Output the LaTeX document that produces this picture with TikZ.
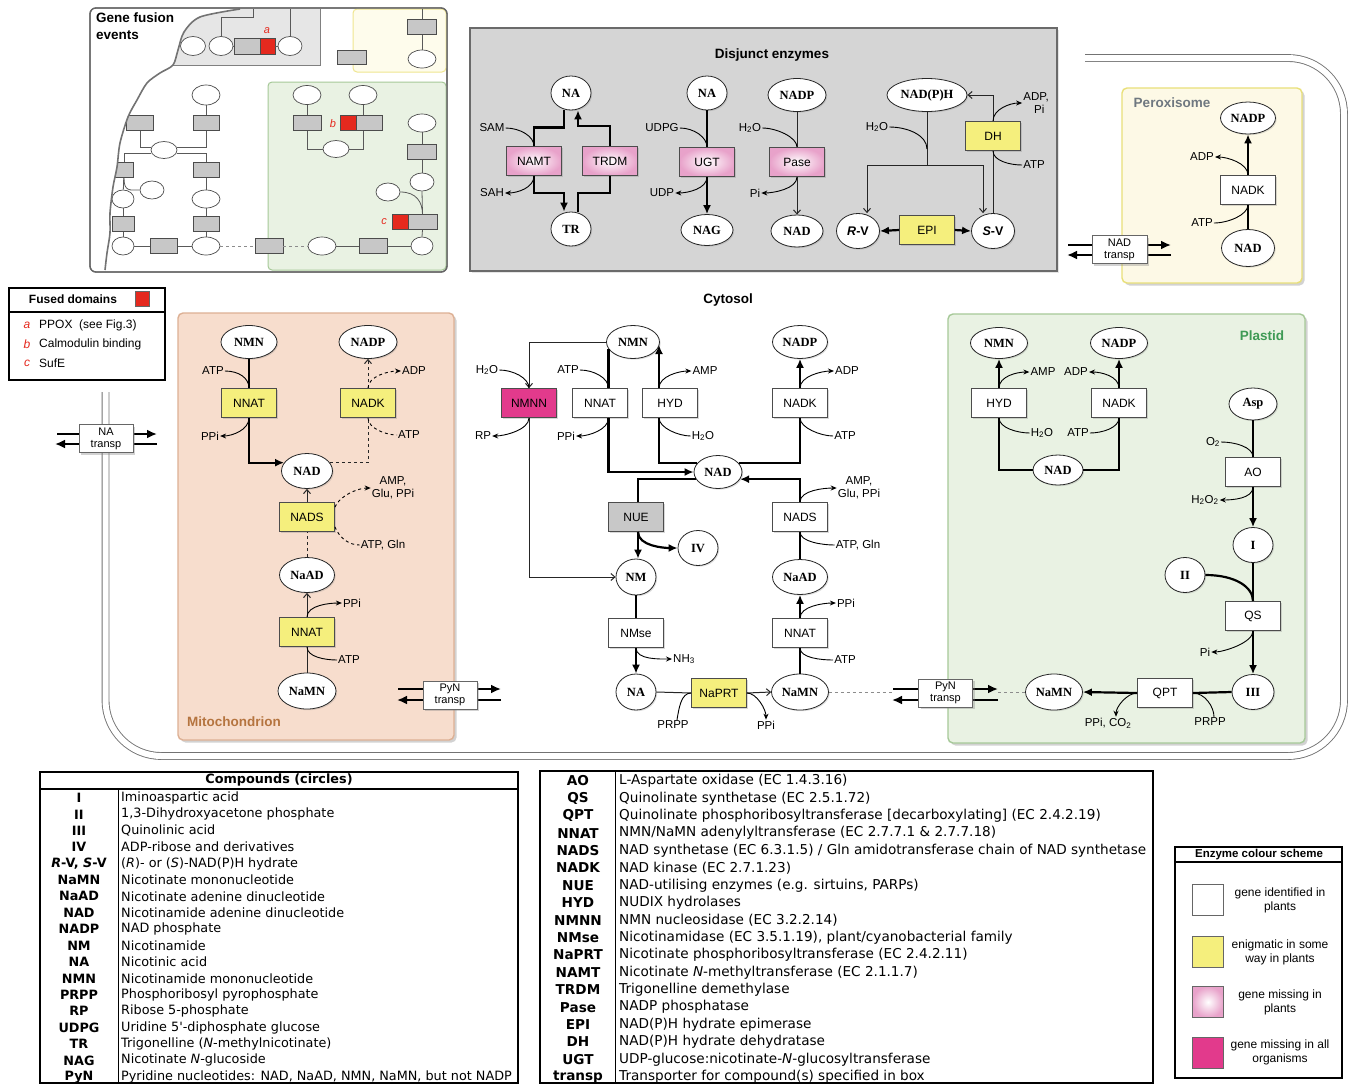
\documentclass[tikz,border=0pt]{standalone}
\usepackage{fontspec}
\setmainfont{Liberation Serif}
\setsansfont{Liberation Sans}
\newfontfamily\tabfont{DejaVu Sans}
\usetikzlibrary{arrows.meta,shapes.geometric,shadows,calc}
\definecolor{enzyel}{HTML}{F5EF7D}
\definecolor{pinkout}{HTML}{E8A2CA}
\definecolor{magentaenz}{HTML}{E23A8C}
\definecolor{nuegray}{HTML}{C8C8C8}
\definecolor{mitofill}{HTML}{F7DDCD}
\definecolor{mitoline}{HTML}{DDB094}
\definecolor{mitotext}{HTML}{B5743F}
\definecolor{plastfill}{HTML}{E9F2E3}
\definecolor{plastline}{HTML}{A6C998}
\definecolor{plasttext}{HTML}{3E9A55}
\definecolor{peroxfill}{HTML}{FDF9E6}
\definecolor{peroxline}{HTML}{E9E079}
\definecolor{peroxtext}{HTML}{6F7880}
\definecolor{disjfill}{HTML}{D5D5D5}
\definecolor{disjline}{HTML}{6A6A6A}
\definecolor{gfgray}{HTML}{E6E6E6}
\definecolor{gfyfill}{HTML}{FEFCEC}
\definecolor{gfyline}{HTML}{EFE690}
\definecolor{fusred}{HTML}{E5291E}
\newcommand\enzfont{\sffamily\fontsize{12}{13}\selectfont}
\newcommand\cmpfont{\rmfamily\bfseries\fontsize{12.5}{13}\selectfont}
\newcommand\lblfont{\sffamily\fontsize{11.5}{12.5}\selectfont}
\newcommand\ttlfont{\sffamily\bfseries\fontsize{13.5}{14}\selectfont}
\newcommand\tabf{\tabfont\fontsize{12.8}{14}\selectfont}
\newcommand\tabe{\tabfont\fontsize{13.6}{15}\selectfont}
\begin{document}
\begin{tikzpicture}[x=1pt,y=-1pt,
  enz/.style={draw=black!70, line width=0.8pt, fill=white, minimum width=55pt, minimum height=29pt, inner sep=0pt, font=\enzfont, drop shadow={opacity=0.3, shadow xshift=1.5pt, shadow yshift=-1.5pt}},
  enzY/.style={enz, fill=enzyel},
  enzP/.style={enz, inner color=white, outer color=pinkout},
  enzM/.style={enz, fill=magentaenz},
  enzG/.style={enz, fill=nuegray},
  cmp/.style={ellipse, draw=black!85, line width=0.8pt, fill=white, inner sep=0pt, font=\cmpfont, drop shadow={opacity=0.25, shadow xshift=1.2pt, shadow yshift=-1.2pt}},
  sz/.style 2 args={minimum width=#1pt, minimum height=#2pt},
  lbl/.style={font=\lblfont, inner sep=1pt},
  thk/.style={line width=2.2pt},
  thka/.style={thk, -{Latex[length=9pt,width=8pt]}},
  thn/.style={line width=1pt, draw=black!85},
  thna/.style={thn, -{Straight Barb[length=4pt,width=7pt]}},
  cof/.style={line width=0.9pt},
  cofa/.style={cof, -{Stealth[length=6pt,width=5pt]}},
  trbox/.style={draw=black!60, line width=0.8pt, fill=white, minimum width=54pt, minimum height=28pt, inner sep=0pt, align=center, font=\sffamily\fontsize{11}{12}\selectfont, drop shadow={opacity=0.35, shadow xshift=2pt, shadow yshift=-2pt}},
  trarr/.style={line width=2.2pt, -{Latex[length=10pt,width=9pt]}},
  comp/.style={rounded corners=5pt, line width=1.4pt, drop shadow={opacity=0.35, shadow xshift=2.5pt, shadow yshift=-2.5pt}},
  tg/.style={draw=black!70, line width=0.7pt, fill=black!22, minimum width=27pt, minimum height=15pt, inner sep=0pt},
  te/.style={ellipse, draw=black!70, line width=0.7pt, fill=white, minimum width=25pt, minimum height=19pt, inner sep=0pt},
  tx/.style={draw=black!70, line width=0.7pt, fill=fusred, minimum width=15pt, minimum height=15pt, inner sep=0pt},
  tl/.style={draw=black!65, line width=0.8pt},
  tred/.style={font=\sffamily\itshape\fontsize{11}{11}\selectfont, text=fusred, inner sep=0pt},
  cssw/.style={draw=black!60, line width=0.8pt, minimum size=31pt, inner sep=0pt},
  cstx/.style={font=\sffamily\fontsize{12}{14}\selectfont, align=center, inner sep=0pt}
]
\useasboundingbox (0,0) rectangle (1352,1085);
\fill[white] (0,0) rectangle (1352,1085);

% ---------------- cell boundary
\draw[draw=black!55, line width=0.9pt, double=white, double distance=6pt, rounded corners=56pt]
  (105.5,392) -- (105.5,756) -- (1344,756) -- (1344,58) -- (1085,58);

% ---------------- gene fusion thumbnail
\draw[line width=1.3pt, draw=black!60, fill=white, rounded corners=6pt] (90,8) rectangle (447,272);
\fill[gfgray] plot[smooth] coordinates {(240,9) (200,17) (184,32) (178,50) (173,65)} -- (320,65) -- (320,9) -- cycle;
\draw[black!50, line width=0.9pt] (173,65) -- (320,65) -- (320,9);
\draw[fill=gfyfill, draw=gfyline, line width=1pt, rounded corners=4pt] (353,9) rectangle (446,72);
\draw[fill=plastfill, draw=plastline, line width=1pt, rounded corners=4pt] (268,82) rectangle (446,270);

\node[te] (t1) at (193,46) {};
\node[te, minimum width=24pt] (t2) at (221,46) {};
\node[tg, minimum width=26pt, minimum height=16pt] (t3) at (247,46) {};
\node[tx, minimum height=16pt] (t4) at (267.5,46) {};
\node[te, minimum width=24pt] (t5) at (290,46) {};
\coordinate (t3a) at (253,9);
\coordinate (t5a) at (290,9);
\draw[tl] (t3a) -- ++(0,8) -| (t2.north);
\draw[tl] (t5a) -- (t5.north);
\draw[tl] (t2.east) -- (t3.west);
\draw[tl] (t4.east) -- (t5.west);
\node[tred] (ta) at (267,31) {a};

\node[tg, minimum width=29pt] (t6) at (422,27) {};
\node[te, minimum width=28pt, minimum height=18pt] (t7) at (422,59) {};
\coordinate (t6a) at (422,9);
\draw[tl] (t6a) -- (t6.north);
\draw[tl] (t6.south) -- (t7.north);
\node[tg, minimum width=29pt, minimum height=14pt] (t8) at (352,57) {};

\node[te, minimum width=28pt] (t9) at (307,95) {};
\node[te, minimum width=28pt] (t10) at (363,95) {};
\node[tg, minimum width=28pt] (t11) at (307,123) {};
\node[tx, minimum width=16pt] (t12) at (348,123) {};
\node[tg, minimum width=26pt] (t13) at (369,123) {};
\node[te, minimum width=26pt, minimum height=17pt] (t14) at (336,149) {};
\draw[tl] (t9.south) -- (t11.north);
\draw[tl] (t10.south) -- (t10.south |- t13.north);
\draw[tl] (t11.south) |- (t14.west);
\draw[tl] (t10.south |- t13.south) |- (t14.east);
\node[tred] (tb) at (333,124) {b};

\node[te, minimum width=28pt, minimum height=18pt] (t15) at (422,123) {};
\node[tg, minimum width=29pt] (t16) at (422,152) {};
\node[te, minimum width=24pt, minimum height=18pt] (t17) at (422,182) {};
\node[te, minimum width=24pt, minimum height=18pt] (t18) at (388,192) {};
\node[tg, minimum width=29pt] (t19) at (422.5,222) {};
\node[tx, minimum width=16pt] (t20) at (400,222) {};
\node[te, minimum width=22pt, minimum height=18pt] (t21) at (422,246) {};
\draw[tl] (t15.south) -- (t16.north);
\draw[tl] (t16.south) -- (t17.north);
\draw[tl] (t17.south) -- (t19.north);
\draw[tl] (t18.east) .. controls +(16,0) and +(0,-12) .. (t19.north);
\draw[tl] (t19.south) -- (t21.north);
\node[tred] (tc) at (384,222) {c};

\node[te, minimum width=22pt, minimum height=18pt] (t22) at (123,246) {};
\node[tg] (t23) at (164,246) {};
\node[te, minimum width=28pt, minimum height=18pt] (t24) at (206,246) {};
\node[tg, minimum width=28pt] (t25) at (269,246) {};
\node[te, minimum width=28pt, minimum height=18pt] (t26) at (322,246) {};
\node[tg, minimum width=28pt] (t27) at (373,246) {};
\draw[tl] (t22) -- (t23) -- (t24);
\draw[tl, dashed, black!45] (t24) -- (t25) -- (t26);
\draw[tl] (t26) -- (t27) -- (t21);

\node[te, minimum width=28pt, minimum height=20pt] (t28) at (206,95) {};
\node[tg, minimum width=26pt] (t29) at (206,123) {};
\node[tg, minimum width=27pt] (t30) at (140,123) {};
\node[te, minimum width=26pt, minimum height=17pt] (t31) at (164,150) {};
\node[tg, minimum width=26pt] (t32) at (206,170) {};
\node[tg, minimum width=18pt] (t33) at (124,170) {};
\node[te, minimum width=24pt, minimum height=18pt] (t34) at (152,190) {};
\node[te, minimum width=28pt, minimum height=18pt] (t35) at (206,199) {};
\node[te, minimum width=22pt, minimum height=18pt] (t36) at (123,199) {};
\node[tg, minimum width=26pt] (t37) at (206,224) {};
\node[tg, minimum width=22pt] (t38) at (123,224) {};
\draw[tl] (t28) -- (t29);
\draw[tl] (t29.south) |- ([yshift=3pt]t31.east);
\draw[tl] (t30.south) |- ([yshift=3pt]t31.west);
\draw[tl] ([yshift=-3pt]t31.east) -| (t32.north);
\draw[tl] ([yshift=-3pt]t31.west) -| (t33.north);
\draw[tl] (t33) -- (t36);
\draw[tl] (t33.south) .. controls +(0,14) and +(-10,0) .. (t34.west);
\draw[tl] (t36) -- (t38) -- (t22);
\draw[tl] (t32) -- (t35) -- (t37) -- (t24);

\fill[white] (92,9) -- plot[smooth] coordinates {(240,9) (200,17) (184,32) (178,50) (173,65) (160,73) (147,83) (137,100) (128,117) (120,143) (117,167) (113,187) (110,213) (110,233) (107,253) (105,270)} -- (92,270) -- cycle;
\draw[black!55, line width=1.6pt] plot[smooth] coordinates {(240,9) (200,17) (184,32) (178,50) (173,65) (160,73) (147,83) (137,100) (128,117) (120,143) (117,167) (113,187) (110,213) (110,233) (107,253) (105,270)};
\draw[line width=1.3pt, draw=black!60, rounded corners=6pt] (90,8) rectangle (447,272);
\node[anchor=north west, align=left, font=\sffamily\bfseries\fontsize{13.5}{17}\selectfont, inner sep=0pt] (gfe) at (96,13) {Gene fusion\\events};

% ---------------- fused domains legend
\draw[line width=1.2pt] (9,288) rectangle (165,380);
\draw[line width=1.2pt] (9,312) -- (165,312);
\node[font=\sffamily\bfseries\fontsize{12}{13}\selectfont] (fd-title) at (73,299) {Fused domains};
\node[draw=black!60, fill=fusred, minimum width=14pt, minimum height=15pt, inner sep=0pt] (fd-sq) at (142,299) {};
\node[tred, font=\sffamily\itshape\fontsize{12}{12}\selectfont] (fd-a) at (27,325) {a};
\node[tred, font=\sffamily\itshape\fontsize{12}{12}\selectfont] (fd-b) at (27,344) {b};
\node[tred, font=\sffamily\itshape\fontsize{12}{12}\selectfont] (fd-c) at (27,363) {c};
\node[anchor=west, inner sep=0pt, font=\sffamily\fontsize{12}{13}\selectfont] (fd-at) at (39,325) {PPOX\ \ (see Fig.3)};
\node[anchor=west, inner sep=0pt, font=\sffamily\fontsize{12}{13}\selectfont] (fd-bt) at (39,344) {Calmodulin binding};
\node[anchor=west, inner sep=0pt, font=\sffamily\fontsize{12}{13}\selectfont] (fd-ct) at (39,363) {SufE};

% ---------------- compartments
\draw[comp, fill=mitofill, draw=mitoline] (178,313) rectangle (454,740);
\draw[comp, fill=plastfill, draw=plastline] (948,314) rectangle (1305,743);
\draw[comp, fill=peroxfill, draw=peroxline] (1122,88) rectangle (1302,283);
\draw[line width=1.3pt, fill=disjfill, draw=disjline, drop shadow={opacity=0.2, shadow xshift=2pt, shadow yshift=-2pt}] (470,28) rectangle (1057,271);

% ---------------- disjunct enzymes
\node[font=\ttlfont] (d-title) at (772,55) {Disjunct enzymes};
\node[cmp, sz={40}{34}] (d-na1) at (571,93) {NA};
\node[enzP] (d-namt) at (534,161) {NAMT};
\node[enzP] (d-trdm) at (610,161) {TRDM};
\node[cmp, sz={40}{34}] (d-tr) at (571,229) {TR};
\node[lbl] (d-sam) at (492,128) {SAM};
\node[lbl] (d-sah) at (492,193) {SAH};
\node[cmp, sz={40}{34}] (d-na2) at (707,93) {NA};
\node[enzP] (d-ugt) at (707,162) {UGT};
\node[cmp, sz={52}{31}] (d-nag) at (707,230) {NAG};
\node[lbl] (d-udpg) at (662,128) {UDPG};
\node[lbl] (d-udp) at (662,193) {UDP};
\node[cmp, sz={58}{33}] (d-nadp) at (797,95) {NADP};
\node[enzP] (d-pase) at (797,162) {Pase};
\node[cmp, sz={52}{32}] (d-nad) at (797,231) {NAD};
\node[lbl] (d-h2o1) at (750,128) {H\textsubscript{2}O};
\node[lbl] (d-pi) at (755,193) {Pi};
\node[cmp, sz={80}{33}] (d-nadph) at (927,95) {NAD(P)H};
\node[cmp, sz={43}{35}] (d-rv) at (858,231) {{\sffamily\textit{R}-V}};
\node[enzY] (d-epi) at (927,230) {EPI};
\node[cmp, sz={43}{35}] (d-sv) at (993,231) {{\sffamily\textit{S}-V}};
\node[enzY] (d-dh) at (993,136) {DH};
\node[lbl] (d-h2o2) at (877,127) {H\textsubscript{2}O};
\node[lbl, align=center] (d-adppi) at (1036,103) {ADP,\\\ \ Pi};
\node[lbl] (d-atp) at (1034,165) {ATP};
\coordinate (d-j) at (927,165);

\draw[thk] ([xshift=-7pt]d-na1.south) -- ++(0,17) -| (d-namt.north);
\draw[thka] (d-namt.south) -- ++(0,17) -| ([xshift=-7pt]d-tr.north);
\draw[thk] ([xshift=7pt]d-tr.north) -- ++(0,-19) -| (d-trdm.south);
\draw[thka] (d-trdm.north) -- ++(0,-20) -| ([xshift=7pt]d-na1.south);
\draw[cof] (d-sam.east) .. controls +(14,0) and +(0,-10) .. (d-namt.north);
\draw[cofa] (d-namt.south) .. controls +(0,12) and +(12,0) .. (d-sah.east);
\draw[thk] (d-na2.south) -- (d-ugt.north);
\draw[thka] (d-ugt.south) -- (d-nag.north);
\draw[cof] (d-udpg.east) .. controls +(14,0) and +(0,-10) .. (d-ugt.north);
\draw[cofa] (d-ugt.south) .. controls +(0,12) and +(12,0) .. (d-udp.east);
\draw[thn] (d-nadp.south) -- (d-pase.north);
\draw[thna] (d-pase.south) -- (d-nad.north);
\draw[cof] (d-h2o1.east) .. controls +(14,0) and +(0,-10) .. (d-pase.north);
\draw[cofa] (d-pase.south) .. controls +(0,12) and +(12,0) .. (d-pi.east);
\draw[thn] (d-nadph.south) -- (d-j);
\draw[thna] (d-j) -| ([xshift=9pt]d-rv.north);
\draw[thna] (d-j) -| ([xshift=-10pt]d-sv.north);
\draw[cof] (d-h2o2.east) .. controls +(18,0) and +(0,-14) .. ($(d-nadph.south)!0.7!(d-j)$);
\draw[thn] (d-sv.north) -- (d-dh.south);
\draw[thna] (d-dh.north) |- (d-nadph.east);
\draw[cofa] (d-dh.north) .. controls +(0,-12) and +(-12,0) .. (d-adppi.west);
\draw[cof] (d-dh.south) .. controls +(0,10) and +(-12,0) .. (d-atp.west);
\draw[thka] (d-epi.west) -- (d-rv.east);
\draw[thka] (d-epi.east) -- (d-sv.west);

% ---------------- peroxisome
\node[font=\sffamily\bfseries\fontsize{13.5}{14}\selectfont, text=peroxtext] (x-title) at (1172,103) {Peroxisome};
\node[cmp, sz={55}{32}] (x-nadp) at (1248,118) {NADP};
\node[enz] (x-nadk) at (1248,190) {NADK};
\node[cmp, sz={53}{37}] (x-nad) at (1248,248) {NAD};
\node[lbl] (x-adp) at (1202,157) {ADP};
\node[lbl] (x-atp) at (1202,223) {ATP};
\draw[thka] (x-nadk.north) -- (x-nadp.south);
\draw[cofa] (x-nadk.north) .. controls +(0,-12) and +(12,0) .. (x-adp.east);
\draw[thk] (x-nad.north) -- (x-nadk.south);
\draw[cof] (x-atp.east) .. controls +(14,0) and +(0,10) .. (x-nadk.south);

% ---------------- mitochondrion
\node[font=\sffamily\bfseries\fontsize{13.5}{14}\selectfont, text=mitotext, anchor=west, inner sep=0pt] (m-title) at (187,722) {Mitochondrion};
\node[cmp, sz={56}{33}] (m-nmn) at (249,342) {NMN};
\node[cmp, sz={58}{33}] (m-nadp) at (368,342) {NADP};
\node[enzY] (m-nnat1) at (249,403) {NNAT};
\node[enzY] (m-nadk) at (368,403) {NADK};
\node[cmp, sz={51}{35}] (m-nad) at (307,471) {NAD};
\node[enzY] (m-nads) at (307,517) {NADS};
\node[cmp, sz={55}{35}] (m-naad) at (307,575) {NaAD};
\node[enzY] (m-nnat2) at (307,632) {NNAT};
\node[cmp, sz={58}{36}] (m-namn) at (307,691) {NaMN};
\node[lbl] (m-atp1) at (213,371) {ATP};
\node[lbl] (m-ppi1) at (210,436) {PPi};
\node[lbl] (m-adp) at (414,371) {ADP};
\node[lbl] (m-atp2) at (409,435) {ATP};
\node[lbl, align=center] (m-amp) at (393,488) {AMP,\\Glu, PPi};
\node[lbl] (m-atpgln) at (383,545) {ATP, Gln};
\node[lbl] (m-ppi2) at (352,603) {PPi};
\node[lbl] (m-atp3) at (349,660) {ATP};
\draw[thk] (m-nmn) -- (m-nnat1);
\draw[cof] (m-atp1.east) .. controls +(14,0) and +(0,-10) .. (m-nnat1.north);
\draw[cofa] (m-nnat1.south) .. controls +(0,12) and +(12,0) .. (m-ppi1.east);
\draw[thka] (m-nnat1.south) |- (m-nad.160);
\draw[thn, dashed] (m-nad.20) -| (m-nadk.south);
\draw[cof, dashed] (m-nadk.south) .. controls +(0,10) and +(-12,0) .. (m-atp2.west);
\draw[thna, dashed] (m-nadk.north) -- (m-nadp.south);
\draw[cofa, dashed] (m-nadk.north) .. controls +(0,-12) and +(-12,0) .. (m-adp.west);
\draw[thna] (m-nads.north) -- (m-nad.south);
\draw[cofa, dashed] ([yshift=-5pt]m-nads.north east) .. controls +(5,-12) and +(-12,0) .. (m-amp.west);
\draw[cof, dashed] ([yshift=5pt]m-nads.south east) .. controls +(5,12) and +(-10,0) .. (m-atpgln.west);
\draw[thn, dashed] (m-naad.north) -- (m-nads.south);
\draw[thna] (m-nnat2.north) -- (m-naad.south);
\draw[cofa] (m-nnat2.north) .. controls +(0,-12) and +(-12,0) .. (m-ppi2.west);
\draw[thn] (m-namn.north) -- (m-nnat2.south);
\draw[cof] (m-nnat2.south) .. controls +(0,10) and +(-12,0) .. (m-atp3.west);

% ---------------- cytosol
\node[font=\ttlfont] (c-title) at (728,300) {Cytosol};
\node[cmp, sz={53}{33}] (c-nmn) at (633,342) {NMN};
\node[cmp, sz={55}{33}] (c-nadp) at (800,342) {NADP};
\node[enzM] (c-nmnn) at (529,403) {NMNN};
\node[enz] (c-nnat1) at (600,403) {NNAT};
\node[enz] (c-hyd) at (670,403) {HYD};
\node[enz] (c-nadk) at (800,403) {NADK};
\node[cmp, sz={48}{33}] (c-nad) at (718,472) {NAD};
\node[enzG] (c-nue) at (636,517) {NUE};
\node[enz] (c-nads) at (800,517) {NADS};
\node[cmp, sz={40}{35}] (c-iv) at (698,548) {IV};
\node[cmp, sz={40}{36}] (c-nm) at (636,577) {NM};
\node[cmp, sz={55}{35}] (c-naad) at (800,577) {NaAD};
\node[enz] (c-nmse) at (636,633) {NMse};
\node[enz] (c-nnat2) at (800,633) {NNAT};
\node[cmp, sz={40}{36}] (c-na) at (636,692) {NA};
\node[enzY] (c-naprt) at (719,693) {NaPRT};
\node[cmp, sz={57}{36}] (c-namn) at (800,692) {NaMN};
\node[lbl] (c-h2o1) at (487,370) {H\textsubscript{2}O};
\node[lbl] (c-atp1) at (568,370) {ATP};
\node[lbl] (c-amp1) at (705,371) {AMP};
\node[lbl] (c-adp) at (847,371) {ADP};
\node[lbl] (c-rp) at (483,436) {RP};
\node[lbl] (c-ppi1) at (566,436) {PPi};
\node[lbl] (c-h2o2) at (703,436) {H\textsubscript{2}O};
\node[lbl] (c-atp2) at (845,436) {ATP};
\node[lbl, align=center] (c-amp2) at (859,488) {AMP,\\Glu, PPi};
\node[lbl] (c-atpgln) at (858,545) {ATP, Gln};
\node[lbl] (c-ppi2) at (846,603) {PPi};
\node[lbl] (c-atp3) at (845,660) {ATP};
\node[lbl] (c-nh3) at (684,659) {NH\textsubscript{3}};
\node[lbl] (c-prpp) at (673,725) {PRPP};
\node[lbl] (c-ppi3) at (766,725) {PPi};
\coordinate (c-hydx) at (659,0);
\draw[thna] (c-nmn.west) -| (c-nmnn.north);
\draw[cof] (c-h2o1.east) .. controls +(14,0) and +(0,-10) .. (c-nmnn.north);
\draw[thna] (c-nmnn.south) |- (c-nm.west);
\draw[cofa] (c-nmnn.south) .. controls +(0,12) and +(12,0) .. (c-rp.east);
\draw[thk] (c-nmn.196) -- (c-nmn.196 |- c-nnat1.north);
\draw[cof] (c-atp1.east) .. controls +(14,0) and +(0,-10) .. (c-nmn.196 |- c-nnat1.north);
\draw[thka] (c-nmn.196 |- c-nnat1.south) |- (c-nad.west);
\draw[cofa] (c-nmn.196 |- c-nnat1.south) .. controls +(0,12) and +(12,0) .. (c-ppi1.east);
\draw[thka] (c-hydx |- c-hyd.north) -- ([yshift=-3pt]c-hydx |- c-nmn.east);
\draw[cofa] (c-hydx |- c-hyd.north) .. controls +(0,-12) and +(-12,0) .. (c-amp1.west);
\draw[thk] (c-nad.156) -| (c-hydx |- c-hyd.south);
\draw[cof] (c-hydx |- c-hyd.south) .. controls +(0,10) and +(-12,0) .. (c-h2o2.west);
\draw[thk] (c-nad.24) -| (c-nadk.south);
\draw[cof] (c-nadk.south) .. controls +(0,10) and +(-12,0) .. (c-atp2.west);
\draw[thka] (c-nadk.north) -- (c-nadp.south);
\draw[cofa] (c-nadk.north) .. controls +(0,-12) and +(-12,0) .. (c-adp.west);
\draw[thk] (c-nad.198) -| ([xshift=2pt]c-nue.north);
\draw[thka] ([xshift=2pt]c-nue.south) -- ([xshift=2pt]c-nm.north);
\draw[thka] ([xshift=2pt]c-nue.south) .. controls +(0,14) and +(-14,0) .. (c-iv.west);
\draw[thka] (c-nads.north) |- (c-nad.342);
\draw[cofa] (c-nads.north) .. controls +(0,-12) and +(-12,0) .. (c-amp2.west);
\draw[cof] (c-nads.south) .. controls +(0,10) and +(-12,0) .. (c-atpgln.west);
\draw[thk] (c-naad.north) -- (c-nads.south);
\draw[thka] (c-nnat2.north) -- (c-naad.south);
\draw[cofa] (c-nnat2.north) .. controls +(0,-12) and +(-12,0) .. (c-ppi2.west);
\draw[thk] (c-namn.north) -- (c-nnat2.south);
\draw[cof] (c-nnat2.south) .. controls +(0,10) and +(-12,0) .. (c-atp3.west);
\draw[thk] (c-nm.south) -- (c-nmse.north);
\draw[thka] (c-nmse.south) -- (c-na.north);
\draw[cofa] (c-nmse.south) .. controls +(0,12) and +(-12,0) .. (c-nh3.west);
\draw[thn] (c-na.east) -- (c-naprt.west);
\draw[cof] ([xshift=4pt]c-prpp.north) .. controls +(2,-12) and +(-10,0) .. (c-naprt.west);
\draw[thna] (c-naprt.east) -- (c-namn.west);
\draw[cofa] (c-naprt.east) .. controls +(10,0) and +(0,-10) .. (c-ppi3.north);

% ---------------- plastid
\node[font=\sffamily\bfseries\fontsize{13.5}{14}\selectfont, text=plasttext] (p-title) at (1262,336) {Plastid};
\node[cmp, sz={57}{31}] (p-nmn) at (999,343) {NMN};
\node[cmp, sz={57}{31}] (p-nadp) at (1119,343) {NADP};
\node[enz] (p-hyd) at (999,403) {HYD};
\node[enz] (p-nadk) at (1119,403) {NADK};
\node[cmp, sz={50}{30}] (p-nad) at (1058,470) {NAD};
\node[cmp, sz={48}{32}] (p-asp) at (1253,404) {Asp};
\node[enz] (p-ao) at (1253,472) {AO};
\node[cmp, sz={40}{35}] (p-i) at (1253,545) {I};
\node[cmp, sz={40}{35}] (p-ii) at (1185,575) {II};
\node[enz] (p-qs) at (1253,616) {QS};
\node[cmp, sz={42}{35}] (p-iii) at (1253,692) {III};
\node[enz] (p-qpt) at (1165,693) {QPT};
\node[cmp, sz={57}{36}] (p-namn) at (1054,692) {NaMN};
\node[lbl] (p-amp) at (1043,372) {AMP};
\node[lbl] (p-adp) at (1076,372) {ADP};
\node[lbl] (p-h2o) at (1042,433) {H\textsubscript{2}O};
\node[lbl] (p-atp) at (1078,433) {ATP};
\node[lbl] (p-o2) at (1213,442) {O\textsubscript{2}};
\node[lbl] (p-h2o2) at (1205,500) {H\textsubscript{2}O\textsubscript{2}};
\node[lbl] (p-pi) at (1205,652) {Pi};
\node[lbl] (p-ppico2) at (1108,723) {PPi, CO\textsubscript{2}};
\node[lbl] (p-prpp) at (1210,722) {PRPP};
\draw[thka] (p-hyd.north) -- (p-nmn.south);
\draw[cofa] (p-hyd.north) .. controls +(0,-12) and +(-12,0) .. (p-amp.west);
\draw[thk] (p-nad.west) -| (p-hyd.south);
\draw[cof] (p-hyd.south) .. controls +(0,10) and +(-12,0) .. (p-h2o.west);
\draw[thk] (p-nad.east) -| (p-nadk.south);
\draw[cof] (p-atp.east) .. controls +(12,0) and +(0,10) .. (p-nadk.south);
\draw[thka] (p-nadk.north) -- (p-nadp.south);
\draw[cofa] (p-nadk.north) .. controls +(0,-12) and +(12,0) .. (p-adp.east);
\draw[thk] (p-asp.south) -- (p-ao.north);
\draw[cof] (p-o2.east) .. controls +(14,0) and +(0,-10) .. (p-ao.north);
\draw[thka] (p-ao.south) -- (p-i.north);
\draw[cofa] (p-ao.south) .. controls +(0,12) and +(12,0) .. (p-h2o2.east);
\draw[thk] (p-i.south) -- (p-qs.north);
\draw[thk] (p-ii.east) .. controls +(30,0) and +(0,-14) .. (p-qs.north);
\draw[thka] (p-qs.south) -- (p-iii.north);
\draw[cofa] (p-qs.south) .. controls +(0,12) and +(12,0) .. (p-pi.east);
\draw[thk] (p-iii.west) -- (p-qpt.east);
\draw[cof] (p-qpt.east) .. controls +(12,0) and +(0,-10) .. ([xshift=4pt]p-prpp.north);
\draw[thka] (p-qpt.west) -- (p-namn.east);
\draw[cofa] (p-qpt.west) .. controls +(-10,0) and +(0,-10) .. ([xshift=8pt]p-ppico2.north);

% ---------------- transporters
\coordinate (na-l1) at (57,434);  \coordinate (na-r1) at (157,434);
\coordinate (na-r2) at (157,444); \coordinate (na-l2) at (55,444);
\coordinate (pl-l1) at (398,689); \coordinate (pl-r1) at (501,689);
\coordinate (pl-r2) at (501,700); \coordinate (pl-l2) at (397,700);
\coordinate (pr-l1) at (893,689); \coordinate (pr-r1) at (998,689);
\coordinate (pr-r2) at (998,700); \coordinate (pr-l2) at (892,700);
\coordinate (nt-l1) at (1068,245); \coordinate (nt-r1) at (1171,245);
\coordinate (nt-r2) at (1171,255); \coordinate (nt-l2) at (1067,255);
\draw[dashed, black!45, line width=1pt] (c-namn.east) -- (pr-l1 |- c-namn.east);
\draw[dashed, black!45, line width=1pt] (pr-r1 |- p-namn.west) -- (p-namn.west);
\foreach \t in {na,pl,pr,nt}{
  \draw[trarr] (\t-l1) -- (\t-r1);
  \draw[trarr] (\t-r2) -- (\t-l2);
}
\node[trbox] (na-box) at (106,438.5) {NA\\transp};
\node[trbox] (pl-box) at (450,695) {PyN\\transp};
\node[trbox] (pr-box) at (945.5,693) {PyN\\transp};
\node[trbox, minimum width=55pt] (nt-box) at (1119.5,249.5) {NAD\\transp};

% ---------------- compounds table
\draw[line width=1.2pt] (40,772) rectangle (518,1083);
\draw[line width=1.2pt] (40,789) -- (518,789);
\draw[line width=0.8pt] (118,789) -- (118,1083);
\node[font=\tabf\bfseries, inner sep=0pt] (ct-title) at (279,780) {Compounds (circles)};
\foreach \lab/\desc [count=\i from 0] in {
 {I}/{Iminoaspartic acid},
 {II}/{1,3-Dihydroxyacetone phosphate},
 {III}/{Quinolinic acid},
 {IV}/{ADP-ribose and derivatives},
 {\textit{R}-V, \textit{S}-V}/{(\textit{R})- or (\textit{S})-NAD(P)H hydrate},
 {NaMN}/{Nicotinate mononucleotide},
 {NaAD}/{Nicotinate adenine dinucleotide},
 {NAD}/{Nicotinamide adenine dinucleotide},
 {NADP}/{NAD phosphate},
 {NM}/{Nicotinamide},
 {NA}/{Nicotinic acid},
 {NMN}/{Nicotinamide mononucleotide},
 {PRPP}/{Phosphoribosyl pyrophosphate},
 {RP}/{Ribose 5-phosphate},
 {UDPG}/{Uridine 5'-diphosphate glucose},
 {TR}/{Trigonelline (\textit{N}-methylnicotinate)},
 {NAG}/{Nicotinate \textit{N}-glucoside},
 {PyN}/{Pyridine nucleotides: NAD, NaAD, NMN, NaMN, but not NADP}}{
  \node[font=\tabf\bfseries, inner sep=0pt] (cl\i) at (79,798+16.4*\i) {\lab};
  \node[font=\tabf, anchor=west, inner sep=0pt] (cd\i) at (121,798+16.4*\i) {\desc};
}

% ---------------- enzymes table
\draw[line width=1.2pt] (540,771) rectangle (1153,1083);
\draw[line width=0.8pt] (615,771) -- (615,1083);
\foreach \lab/\desc [count=\i from 0] in {
 {AO}/{L-Aspartate oxidase (EC 1.4.3.16)},
 {QS}/{Quinolinate synthetase (EC 2.5.1.72)},
 {QPT}/{Quinolinate phosphoribosyltransferase [decarboxylating] (EC 2.4.2.19)},
 {NNAT}/{NMN\slash NaMN adenylyltransferase (EC 2.7.7.1 \& 2.7.7.18)},
 {NADS}/{NAD synthetase (EC 6.3.1.5) \slash\ Gln amidotransferase chain of NAD synthetase},
 {NADK}/{NAD kinase (EC 2.7.1.23)},
 {NUE}/{NAD-utilising enzymes (e.g. sirtuins, PARPs)},
 {HYD}/{NUDIX hydrolases},
 {NMNN}/{NMN nucleosidase (EC 3.2.2.14)},
 {NMse}/{Nicotinamidase (EC 3.5.1.19), plant\slash cyanobacterial family},
 {NaPRT}/{Nicotinate phosphoribosyltransferase (EC 2.4.2.11)},
 {NAMT}/{Nicotinate \textit{N}-methyltransferase (EC 2.1.1.7)},
 {TRDM}/{Trigonelline demethylase},
 {Pase}/{NADP phosphatase},
 {EPI}/{NAD(P)H hydrate epimerase},
 {DH}/{NAD(P)H hydrate dehydratase},
 {UGT}/{UDP-glucose:nicotinate-\textit{N}-glucosyltransferase},
 {transp}/{Transporter for compound(s) specified in box}}{
  \node[font=\tabe\bfseries, inner sep=0pt] (el\i) at (578,781+17.4*\i) {\lab};
  \node[font=\tabe, anchor=west, inner sep=0pt] (ed\i) at (619,781+17.4*\i) {\desc};
}

% ---------------- colour scheme legend
\draw[line width=1.2pt] (1175,847) rectangle (1342,1078);
\draw[line width=1.2pt] (1175,862) -- (1342,862);
\node[font=\sffamily\bfseries\fontsize{11.5}{12}\selectfont, inner sep=0pt] (cs-title) at (1259,854.5) {Enzyme colour scheme};
\node[cssw, fill=white] (cs1) at (1208,900) {};
\node[cssw, fill=enzyel] (cs2) at (1208,952) {};
\node[cssw, inner color=white, outer color=pinkout] (cs3) at (1208,1002) {};
\node[cssw, fill=magentaenz] (cs4) at (1208,1053) {};
\node[cstx] (cs1t) at (1280,900) {gene identified in\\plants};
\node[cstx] (cs2t) at (1280,952) {enigmatic in some\\way in plants};
\node[cstx] (cs3t) at (1280,1002) {gene missing in\\plants};
\node[cstx] (cs4t) at (1280,1052) {gene missing in all\\organisms};
\end{tikzpicture}
\end{document}
